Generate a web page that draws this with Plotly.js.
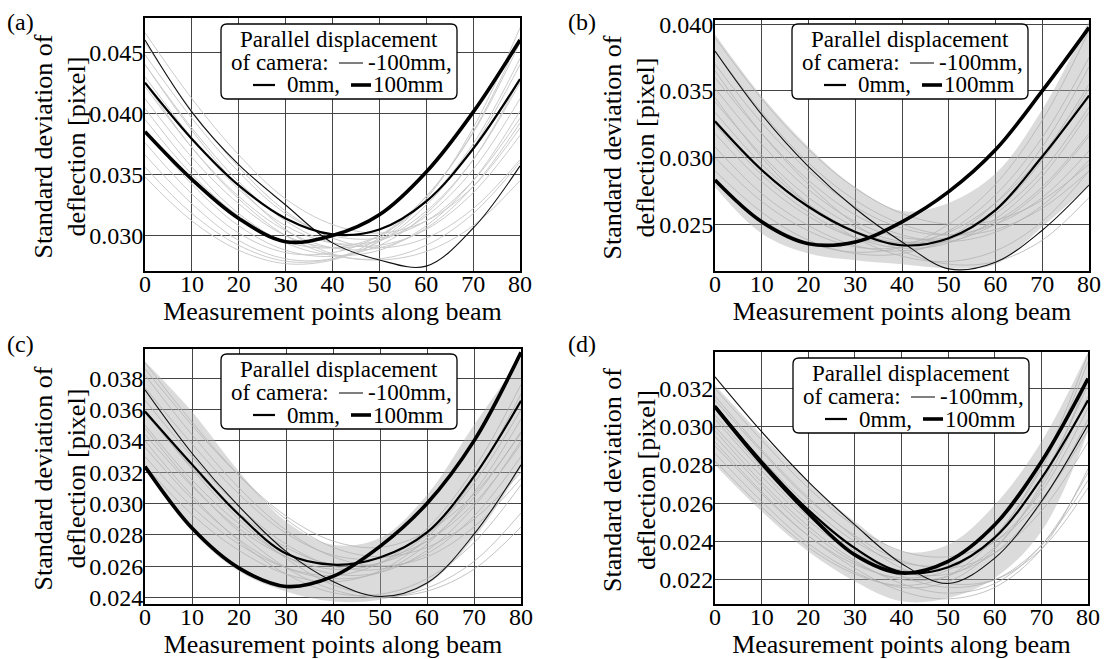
<!DOCTYPE html>
<html><head><meta charset="utf-8">
<script src="https://cdn.plot.ly/plotly-3.0.1.min.js"></script>
<style>body{margin:0;background:#fff;font-family:'Liberation Serif'}#chart{width:1106px;height:659px}</style>
</head><body><div id="chart"></div>
<script>
// Measurement points along beam (sampled every 10)
const X = [0,10,20,30,40,50,60,70,80];
const panelLabels = ['(a)','(b)','(c)','(d)'];
const legendLabels = ['-100mm','0mm','100mm'];
const xTitle = 'Measurement points along beam';
const yTitle = 'Standard deviation of<br>deflection [pixel]';

// ---- Panel (a)
const a_m100 = [0.04600,0.04010,0.03580,0.03250,0.02940,0.02800,0.02750,0.03060,0.03570];
const a_0    = [0.04250,0.03790,0.03410,0.03140,0.03010,0.03050,0.03280,0.03710,0.04280];
const a_100  = [0.03850,0.03460,0.03140,0.02950,0.03000,0.03170,0.03520,0.04010,0.04600];
const a_gray = [
 [0.0466,0.0412,0.0366,0.0330,0.0309,0.0302,0.0312,0.0340,0.0388],
 [0.0458,0.0402,0.0356,0.0320,0.0298,0.0290,0.0298,0.0322,0.0362],
 [0.0448,0.0396,0.0352,0.0318,0.0300,0.0298,0.0312,0.0345,0.0396],
 [0.0440,0.0388,0.0344,0.0312,0.0294,0.0292,0.0305,0.0335,0.0382],
 [0.0430,0.0380,0.0338,0.0308,0.0294,0.0296,0.0316,0.0354,0.0412],
 [0.0422,0.0372,0.0332,0.0304,0.0290,0.0290,0.0306,0.0340,0.0392],
 [0.0412,0.0364,0.0326,0.0300,0.0290,0.0296,0.0320,0.0362,0.0425],
 [0.0404,0.0356,0.0318,0.0294,0.0284,0.0288,0.0308,0.0345,0.0402],
 [0.0395,0.0350,0.0316,0.0295,0.0290,0.0300,0.0328,0.0375,0.0445],
 [0.0386,0.0342,0.0308,0.0288,0.0283,0.0292,0.0318,0.0362,0.0428],
 [0.0376,0.0334,0.0302,0.0286,0.0286,0.0300,0.0332,0.0384,0.0458],
 [0.0366,0.0326,0.0296,0.0281,0.0281,0.0295,0.0325,0.0372,0.0440],
 [0.0356,0.0318,0.0292,0.0279,0.0281,0.0298,0.0332,0.0385,0.0462],
 [0.0348,0.0312,0.0288,0.0277,0.0280,0.0296,0.0330,0.0388,0.0470],
 [0.0440,0.0386,0.0340,0.0305,0.0285,0.0280,0.0287,0.0308,0.0345],
 [0.0425,0.0372,0.0330,0.0300,0.0284,0.0281,0.0292,0.0318,0.0360]
];

// ---- Panel (b)
const b_m100 = [0.03799,0.03322,0.02932,0.02618,0.02367,0.02165,0.02215,0.02455,0.02794];
const b_0    = [0.03272,0.02907,0.02631,0.02442,0.02342,0.02395,0.02606,0.03008,0.03465];
const b_100  = [0.02832,0.02518,0.02354,0.02367,0.02518,0.02744,0.03058,0.03500,0.03975];
const b_upper = [0.03925,0.03460,0.03080,0.02780,0.02600,0.02660,0.02880,0.03360,0.04030];
const b_lower = [0.02780,0.02430,0.02280,0.02230,0.02200,0.02170,0.02200,0.02480,0.02790];
const b_gray = [
 [0.0390,0.0344,0.0306,0.0277,0.0258,0.0250,0.0253,0.0268,0.0295],
 [0.0380,0.0334,0.0296,0.0268,0.0250,0.0242,0.0246,0.0262,0.0290],
 [0.0370,0.0326,0.0290,0.0263,0.0247,0.0242,0.0250,0.0270,0.0305],
 [0.0360,0.0318,0.0283,0.0257,0.0242,0.0237,0.0244,0.0264,0.0298],
 [0.0352,0.0310,0.0276,0.0252,0.0240,0.0240,0.0252,0.0278,0.0318],
 [0.0342,0.0302,0.0270,0.0248,0.0237,0.0237,0.0250,0.0276,0.0316],
 [0.0334,0.0295,0.0265,0.0245,0.0236,0.0240,0.0258,0.0290,0.0338],
 [0.0325,0.0287,0.0259,0.0240,0.0232,0.0236,0.0254,0.0286,0.0334],
 [0.0318,0.0282,0.0256,0.0240,0.0236,0.0244,0.0266,0.0302,0.0355],
 [0.0308,0.0273,0.0249,0.0234,0.0230,0.0238,0.0260,0.0298,0.0352],
 [0.0300,0.0267,0.0245,0.0233,0.0233,0.0245,0.0272,0.0315,0.0375],
 [0.0290,0.0259,0.0238,0.0228,0.0228,0.0240,0.0266,0.0308,0.0368],
 [0.0282,0.0253,0.0236,0.0229,0.0233,0.0250,0.0280,0.0328,0.0395],
 [0.0365,0.0318,0.0280,0.0250,0.0230,0.0220,0.0222,0.0238,0.0270],
 [0.0345,0.0300,0.0265,0.0240,0.0226,0.0222,0.0230,0.0252,0.0290]
];

// ---- Panel (c)
const c_m100 = [0.03726,0.03321,0.02981,0.02694,0.02502,0.02406,0.02492,0.02804,0.03247];
const c_0    = [0.03588,0.03250,0.02928,0.02680,0.02609,0.02655,0.02815,0.03173,0.03656];
const c_100  = [0.03236,0.02843,0.02587,0.02470,0.02534,0.02726,0.03000,0.03400,0.03966];
const c_upper = [0.03907,0.03587,0.03204,0.02885,0.02736,0.02779,0.03055,0.03502,0.03928];
const c_lower = [0.03215,0.02821,0.02566,0.02438,0.02374,0.02385,0.02481,0.02779,0.03226];
const c_gray = [
 [0.0390,0.0352,0.0318,0.0290,0.0272,0.0266,0.0272,0.0290,0.0320],
 [0.0382,0.0344,0.0310,0.0283,0.0266,0.0260,0.0266,0.0285,0.0316],
 [0.0374,0.0338,0.0306,0.0281,0.0267,0.0265,0.0276,0.0300,0.0338],
 [0.0366,0.0330,0.0298,0.0274,0.0260,0.0258,0.0268,0.0292,0.0330],
 [0.0358,0.0323,0.0294,0.0272,0.0261,0.0262,0.0276,0.0304,0.0346],
 [0.0350,0.0315,0.0287,0.0266,0.0255,0.0256,0.0270,0.0298,0.0340],
 [0.0344,0.0311,0.0284,0.0266,0.0258,0.0262,0.0280,0.0313,0.0360],
 [0.0336,0.0303,0.0277,0.0259,0.0252,0.0256,0.0274,0.0307,0.0354],
 [0.0330,0.0298,0.0274,0.0259,0.0254,0.0262,0.0284,0.0322,0.0376],
 [0.0324,0.0293,0.0270,0.0255,0.0250,0.0257,0.0278,0.0316,0.0370],
 [0.0360,0.0322,0.0290,0.0265,0.0248,0.0241,0.0244,0.0258,0.0285],
 [0.0348,0.0312,0.0282,0.0259,0.0245,0.0240,0.0246,0.0263,0.0294],
 [0.0386,0.0350,0.0318,0.0292,0.0276,0.0272,0.0282,0.0306,0.0345],
 [0.0340,0.0305,0.0276,0.0255,0.0243,0.0242,0.0252,0.0275,0.0312]
];

// ---- Panel (d)
const d_m100 = [0.03261,0.02974,0.02713,0.02487,0.02285,0.02180,0.02313,0.02609,0.03010];
const d_0    = [0.03110,0.02820,0.02565,0.02365,0.02240,0.02265,0.02420,0.02730,0.03139];
const d_100  = [0.03104,0.02809,0.02548,0.02330,0.02235,0.02296,0.02487,0.02817,0.03252];
const d_upper = [0.03217,0.02957,0.02713,0.02504,0.02348,0.02383,0.02591,0.02922,0.03391];
const d_lower = [0.02800,0.02557,0.02348,0.02191,0.02087,0.02104,0.02209,0.02452,0.02974];
const d_gray = [
 [0.0320,0.0293,0.0268,0.0248,0.0235,0.0232,0.0240,0.0262,0.0298],
 [0.0314,0.0287,0.0262,0.0243,0.0230,0.0226,0.0234,0.0256,0.0292],
 [0.0310,0.0283,0.0259,0.0240,0.0229,0.0228,0.0240,0.0266,0.0310],
 [0.0304,0.0277,0.0253,0.0235,0.0224,0.0223,0.0234,0.0260,0.0304],
 [0.0300,0.0274,0.0251,0.0234,0.0225,0.0227,0.0242,0.0273,0.0322],
 [0.0295,0.0269,0.0246,0.0229,0.0220,0.0222,0.0237,0.0268,0.0316],
 [0.0290,0.0265,0.0243,0.0228,0.0221,0.0225,0.0243,0.0278,0.0334],
 [0.0286,0.0261,0.0239,0.0224,0.0216,0.0219,0.0236,0.0270,0.0325],
 [0.0282,0.0258,0.0237,0.0223,0.0217,0.0222,0.0242,0.0280,0.0338],
 [0.0316,0.0288,0.0263,0.0242,0.0226,0.0218,0.0220,0.0236,0.0268],
 [0.0306,0.0279,0.0255,0.0236,0.0222,0.0216,0.0220,0.0238,0.0272],
 [0.0298,0.0271,0.0248,0.0230,0.0218,0.0213,0.0218,0.0238,0.0276],
 [0.0292,0.0266,0.0243,0.0226,0.0214,0.0210,0.0216,0.0236,0.0278]
];

const W = 1106, H = 659;
const FONT = 'Liberation Serif';
const px = x => x / W;
const py = y => 1 - y / H;

(function(){ const c = document.createElement('canvas').getContext('2d');
  c.font = '24px "Liberation Serif"'; c.measureText('Measurement 0.045'); })();

const panels = [
  {m100:a_m100, z0:a_0, p100:a_100, gray:a_gray, upper:null, lower:null,
   xpx:[145,520], ypx:[18,271], yrange:[0.0271,0.0478], dtick:0.005, box:[221,24], lab:[20,22], ytx:60},
  {m100:b_m100, z0:b_0, p100:b_100, gray:b_gray, upper:b_upper, lower:b_lower,
   xpx:[715,1089], ypx:[20,271], yrange:[0.02149,0.04032], dtick:0.005, box:[792,24], lab:[582,22], ytx:629},
  {m100:c_m100, z0:c_0, p100:c_100, gray:c_gray, upper:c_upper, lower:c_lower,
   xpx:[145,521], ypx:[349,604], yrange:[0.02358,0.03987], dtick:0.002, box:[221,354], lab:[20,344], ytx:60},
  {m100:d_m100, z0:d_0, p100:d_100, gray:d_gray, upper:d_upper, lower:d_lower,
   xpx:[715,1088], ypx:[352,604], yrange:[0.02073,0.03391], dtick:0.002, box:[793,358], lab:[582,344], ytx:629}
];

const traces = [];
const layout = {
  width: W, height: H, margin:{l:0,r:0,t:0,b:0},
  paper_bgcolor:'white', plot_bgcolor:'white', showlegend:false,
  font:{family:FONT, color:'#000'},
  shapes:[], annotations:[]
};

panels.forEach((p, i) => {
  const n = i === 0 ? '' : String(i+1);
  const xa = 'x' + n, ya = 'y' + n;
  const common = {xaxis:xa, yaxis:ya, hoverinfo:'skip', showlegend:false, mode:'lines'};
  if (p.upper) {
    traces.push(Object.assign({x:X, y:p.upper, line:{width:0, shape:'spline'}}, common));
    traces.push(Object.assign({x:X, y:p.lower, line:{width:0, shape:'spline'}, fill:'tonexty',
      fillcolor:'rgba(170,170,170,0.42)'}, common));
  }
  p.gray.forEach(g => traces.push(Object.assign({x:X, y:g,
    line:{color: i === 0 ? '#cbcbcb' : '#b4b4b4', width: i === 0 ? 1 : 0.8, shape:'spline'}}, common)));
  traces.push(Object.assign({x:X, y:p.m100, name:legendLabels[0], line:{color:'#111', width:1.1, shape:'spline'}}, common));
  traces.push(Object.assign({x:X, y:p.z0, name:legendLabels[1], line:{color:'#000', width:2.2, shape:'spline'}}, common));
  traces.push(Object.assign({x:X, y:p.p100, name:legendLabels[2], line:{color:'#000', width:3.6, shape:'spline'}}, common));

  const axBase = {
    showgrid:true, gridcolor:'#444', gridwidth:1, zeroline:false,
    showline:true, mirror:true, linecolor:'black', linewidth:2,
    ticks:'', ticklen:0, tickfont:{family:FONT, size:24, color:'#000'}
  };
  layout['xaxis' + n] = Object.assign({}, axBase, {
    domain:[px(p.xpx[0]), px(p.xpx[1])], anchor:ya, range:[0,80], dtick:10, tick0:0,
    ticklabelstandoff:-10,
    title:{text:xTitle, font:{family:FONT, size:26, color:'#000'}, standoff:0}
  });
  layout['yaxis' + n] = Object.assign({}, axBase, {
    domain:[py(p.ypx[1]), py(p.ypx[0])], anchor:xa, range:p.yrange, dtick:p.dtick, tick0:0,
    tickformat:'.3f', ticklabelstandoff:-5
  });

  // y-axis title (two lines, rotated)
  layout.annotations.push({xref:'paper', yref:'paper', x:px(p.ytx), y:py((p.ypx[0]+p.ypx[1])/2 + 2),
    xanchor:'center', yanchor:'middle', textangle:-90, showarrow:false, text:yTitle,
    font:{family:FONT, size:26, color:'#000'}});

  // panel label
  layout.annotations.push({xref:'paper', yref:'paper', x:px(p.lab[0]), y:py(p.lab[1]),
    xanchor:'center', yanchor:'middle', showarrow:false, text:panelLabels[i],
    font:{family:FONT, size:24, color:'#000'}});

  // legend box (rounded)
  const L = p.box[0], T = p.box[1], BW = 236, BH = 75, r = 6;
  const P = (x, y) => px(x) + ',' + py(y);
  const path = 'M' + P(L+r,T) + ' L' + P(L+BW-r,T) + ' Q' + P(L+BW,T) + ' ' + P(L+BW,T+r) +
    ' L' + P(L+BW,T+BH-r) + ' Q' + P(L+BW,T+BH) + ' ' + P(L+BW-r,T+BH) +
    ' L' + P(L+r,T+BH) + ' Q' + P(L,T+BH) + ' ' + P(L,T+BH-r) +
    ' L' + P(L,T+r) + ' Q' + P(L,T) + ' ' + P(L+r,T) + ' Z';
  layout.shapes.push({type:'path', xref:'paper', yref:'paper', path:path,
    fillcolor:'white', line:{color:'black', width:1.3}, layer:'above'});
  const seg = (x0, x1, y, w) => layout.shapes.push({type:'line', xref:'paper', yref:'paper',
    x0:px(L+x0), x1:px(L+x1), y0:py(T+y), y1:py(T+y), line:{color:'black', width:w}, layer:'above'});
  seg(118, 142, 39, 1);
  seg(32, 54, 61, 2.2);
  seg(130, 150, 61, 3.6);
  const txt = (x, y, s, anchor) => layout.annotations.push({xref:'paper', yref:'paper',
    x:px(L+x), y:py(T+y), xanchor:anchor, yanchor:'middle', showarrow:false, text:s,
    font:{family:FONT, size:23, color:'#000'}});
  txt(118, 15, 'Parallel displacement', 'center');
  txt(8, 38, 'of camera:', 'left');
  txt(145, 38, legendLabels[0] + ',', 'left');
  txt(64, 61, legendLabels[1] + ',', 'left');
  txt(150, 61, legendLabels[2], 'left');
});

Plotly.newPlot('chart', traces, layout, {displayModeBar:false});
</script></body></html>
